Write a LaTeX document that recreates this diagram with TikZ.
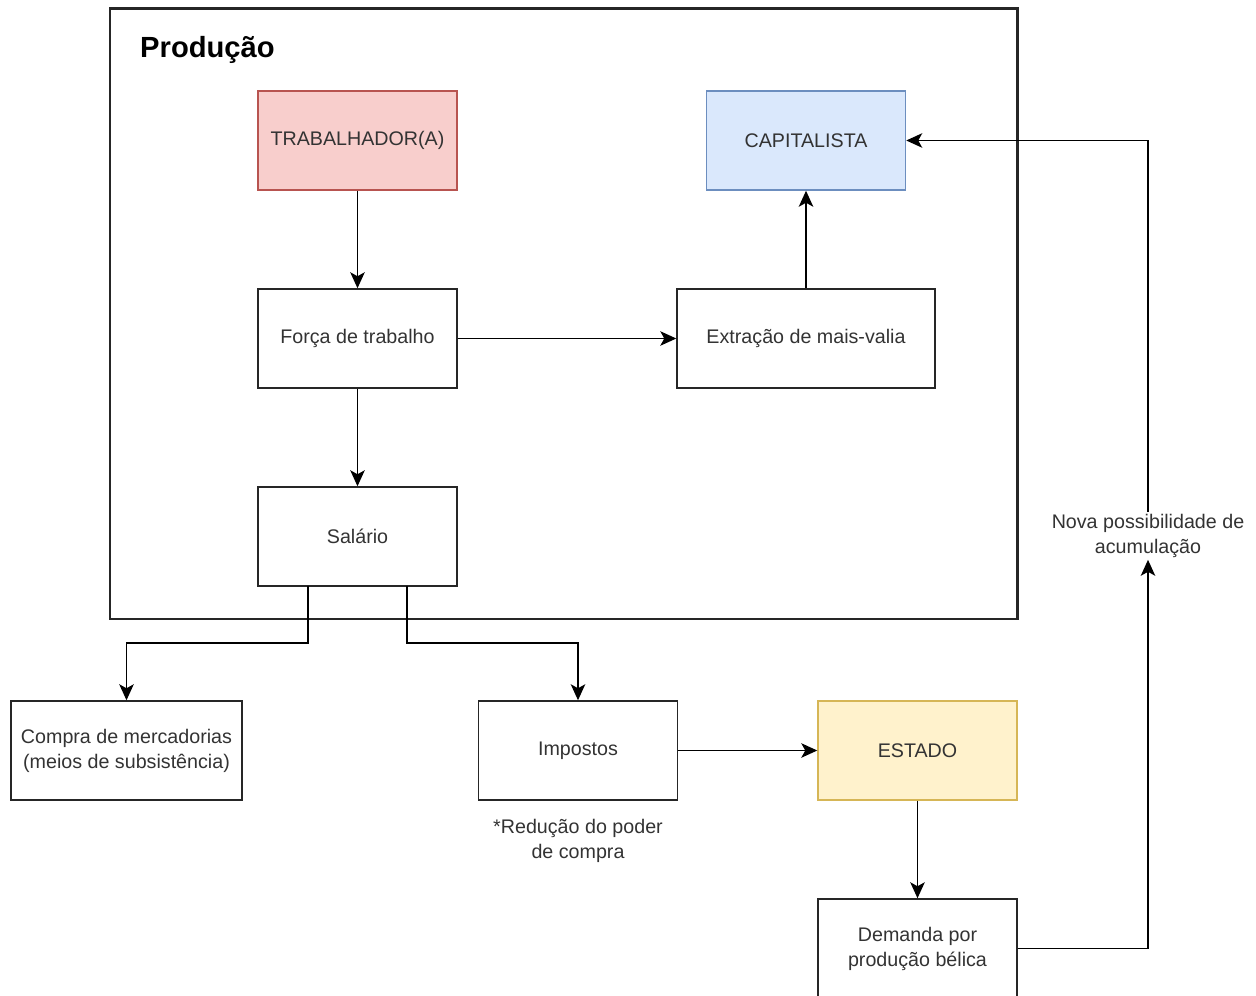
\documentclass[tikz,border=0pt]{standalone}
\usepackage{fontspec}
\setmainfont{Liberation Sans}
\usetikzlibrary{arrows.meta,calc}

\definecolor{redfill}{HTML}{F8CECC}
\definecolor{redline}{HTML}{B85450}
\definecolor{bluefill}{HTML}{DAE8FC}
\definecolor{blueline}{HTML}{6C8EBF}
\definecolor{yellowfill}{HTML}{FFF2CC}
\definecolor{yellowline}{HTML}{D6B656}

\tikzset{
  box/.style={draw=black!85, line width=0.85pt, minimum width=3.98cm, minimum height=1.98cm,
    align=center, font=\fontsize{11.2}{14.2}\selectfont, text=black!80},
  txt/.style={align=center, font=\fontsize{11.2}{14.2}\selectfont, text=black!80},
  arr/.style={draw=black, line width=0.85pt, -{Stealth[length=3.2mm,width=2.9mm,inset=0.8mm]}},
  conn/.style={draw=black, line width=0.85pt}
}

\begin{document}
\begin{tikzpicture}[x=0.02cm, y=-0.02cm]
  \useasboundingbox (0,0) rectangle (1256,996);

  % frame
  \draw[black!85, line width=1.7pt] (110,9) rectangle (1017,619);
  \node[anchor=west, font=\fontsize{16.6}{20}\selectfont\bfseries] (prod) at (134,50) {Produção};

  \node[box, fill=redfill, draw=redline] (trab) at (357.5,140.5) {TRABALHADOR(A)};
  \node[box, fill=bluefill, draw=blueline] (cap) at (806,140.5) {CAPITALISTA};
  \node[box] (forca) at (357.5,338.5) {Força de trabalho};
  \node[box, minimum width=5.16cm] (extr) at (806,338.5) {Extração de mais-valia};
  \node[box] (sal) at (357.5,536.5) {Salário};

  \node[box, minimum width=4.62cm] (compra) at (126.5,750.5) {Compra de mercadorias\\(meios de subsistência)};
  \node[box] (imp) at (578,750.5) {Impostos};
  \node[txt] (reducao) at (578,841) {*Redução do poder\\de compra};
  \node[box, fill=yellowfill, draw=yellowline] (estado) at (917.5,750.5) {ESTADO};
  \node[box] (demanda) at (917.5,948.5) {Demanda por\\produção bélica};
  \node[txt, fill=white, inner sep=1pt] (nova) at (1148,536) {Nova possibilidade de\\acumulação};

  \coordinate (s1) at (308,586);
  \coordinate (s2) at (407,586);

  \draw[arr] (trab) -- (forca);
  \draw[arr] (forca) -- (sal);
  \draw[arr] (forca) -- (extr);
  \draw[arr] (extr) -- (cap);
  \draw[arr] (s1) -- ++(0,57) -| (compra.north);
  \draw[arr] (s2) -- ++(0,57) -| (imp.north);
  \draw[arr] (imp) -- (estado);
  \draw[arr] (estado) -- (demanda);
  \draw[arr] (demanda.east) -| (nova.south);
  \draw[arr] (nova.north) |- (cap.east);
\end{tikzpicture}
\end{document}
